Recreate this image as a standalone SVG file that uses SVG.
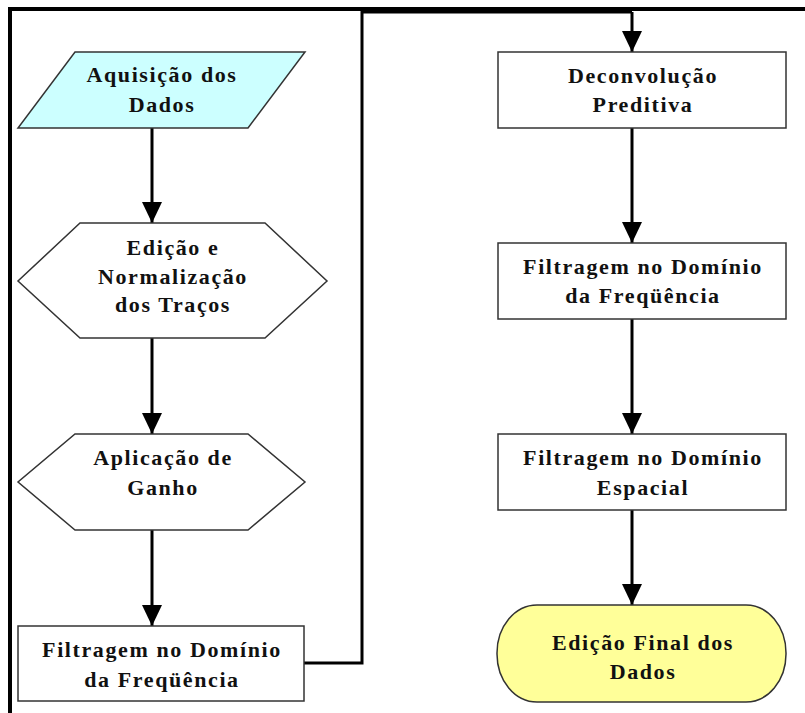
<svg xmlns="http://www.w3.org/2000/svg" width="805" height="713" viewBox="0 0 805 713">
<style>
.shape{stroke:#333;stroke-width:1.5;fill:#fff}
.lbl{font-family:"Liberation Serif","Times New Roman",serif;font-weight:bold;font-size:22px;letter-spacing:1.6px;fill:#111;text-anchor:middle}
.conn{fill:none;stroke:#000;stroke-width:3}
</style>
<defs>
<marker id="ad" markerUnits="userSpaceOnUse" markerWidth="22" markerHeight="20" refX="21" refY="10" orient="auto" viewBox="0 0 22 20">
<path d="M0,0 L21,10 L0,20 Z" fill="#000"/>
</marker>
</defs>
<rect width="805" height="713" fill="#fff"/>
<path id="frame" d="M10,713 V9 H805" fill="none" stroke="#000" stroke-width="4"/>

<g id="connectors">
<path class="conn" d="M152,128 V223" marker-end="url(#ad)"/>
<path class="conn" d="M152,338 V434" marker-end="url(#ad)"/>
<path class="conn" d="M152,530 V626" marker-end="url(#ad)"/>
<path class="conn" d="M304,663 H362 V12 H632"/>
<path class="conn" d="M632,12 V52" stroke-width="2.2" marker-end="url(#ad)"/>
<path class="conn" d="M632,128 V243" marker-end="url(#ad)"/>
<path class="conn" d="M632,319 V434" marker-end="url(#ad)"/>
<path class="conn" d="M632,510 V605" marker-end="url(#ad)"/>
</g>

<g id="n1">
<polygon class="shape" points="75,52 305,52 248,128 18,128" style="fill:#CCFFFF"/>
<text class="lbl" x="162" y="82">Aquisição dos</text>
<text class="lbl" x="162" y="112">Dados</text>
</g>
<g id="n2">
<polygon class="shape" points="80,223 265,223 327,281 265,338 80,338 18,281"/>
<text class="lbl" x="173" y="255">Edição e</text>
<text class="lbl" x="173" y="284">Normalização</text>
<text class="lbl" x="173" y="312">dos Traços</text>
</g>
<g id="n3">
<polygon class="shape" points="75,434 248,434 305,482 248,530 75,530 18,482"/>
<text class="lbl" x="163" y="465">Aplicação de</text>
<text class="lbl" x="163" y="495">Ganho</text>
</g>
<g id="n4">
<rect class="shape" x="18" y="626" width="286" height="75"/>
<text class="lbl" x="162" y="657">Filtragem no Domínio</text>
<text class="lbl" x="162" y="687">da Freqüência</text>
</g>
<g id="n5">
<rect class="shape" x="498" y="52" width="288" height="76"/>
<text class="lbl" x="643" y="83">Deconvolução</text>
<text class="lbl" x="643" y="112">Preditiva</text>
</g>
<g id="n6">
<rect class="shape" x="498" y="243" width="288" height="76"/>
<text class="lbl" x="643" y="274">Filtragem no Domínio</text>
<text class="lbl" x="643" y="303">da Freqüência</text>
</g>
<g id="n7">
<rect class="shape" x="498" y="434" width="288" height="76"/>
<text class="lbl" x="643" y="465">Filtragem no Domínio</text>
<text class="lbl" x="643" y="495">Espacial</text>
</g>
<g id="n8">
<rect class="shape" x="497" y="605" width="289" height="97" rx="40" ry="48" style="fill:#FFFF99"/>
<text class="lbl" x="643" y="650">Edição Final dos</text>
<text class="lbl" x="643" y="679">Dados</text>
</g>
</svg>
